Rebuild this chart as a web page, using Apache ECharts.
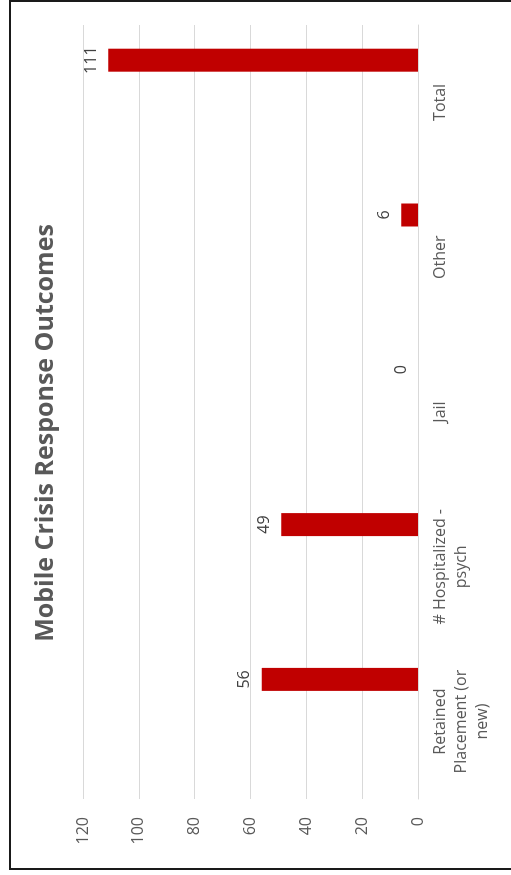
<!DOCTYPE html>
<html>
<head>
<meta charset="utf-8">
<script src="https://cdn.jsdelivr.net/npm/echarts@6/dist/echarts.min.js"></script>
<style>
  html, body { margin: 0; padding: 0; background: #fff; width: 511px; height: 875px; overflow: hidden; }
  #frame { position: absolute; left: 9px; top: 0px; width: 600px; height: 870px; box-sizing: border-box; border: 2px solid #1a1a1a; }
  #chart { position: absolute; left: 0; top: 0; width: 875px; height: 511px; transform-origin: 0 0; transform: translate(0px, 875px) rotate(-90deg); }
</style>
</head>
<body>
<div id="frame"></div>
<div id="chart"></div>
<script>
const title = "Mobile Crisis Response Outcomes";
const categories = ["Retained\nPlacement (or\nnew)", "# Hospitalized -\npsych", "Jail", "Other", "Total"];
const outcomeValues = [56, 49, 0, 6, 111];
const valueTicks = { min: 0, max: 120, interval: 20 };

const chart = echarts.init(document.getElementById('chart'), null, { renderer: 'canvas', width: 875, height: 511 });
const textColor = '#595959';
const font = "'Open Sans', 'Liberation Sans', sans-serif";
chart.setOption({
  animation: false,
  title: {
    text: title,
    left: 437, top: 28, textAlign: 'center',
    textStyle: { fontFamily: font, fontSize: 25, fontWeight: 'bold', color: textColor }
  },
  grid: { left: 76, right: 25, top: 83, bottom: 93, containLabel: false },
  xAxis: {
    type: 'category',
    data: categories,
    axisLine: { show: true, lineStyle: { color: '#d9d9d9', width: 1 } },
    axisTick: { show: false },
    axisLabel: { color: textColor, fontFamily: font, fontSize: 16, lineHeight: 21, margin: 12, interval: 0 }
  },
  yAxis: {
    type: 'value',
    min: valueTicks.min, max: valueTicks.max, interval: valueTicks.interval,
    axisLine: { show: false },
    axisTick: { show: false },
    splitLine: { lineStyle: { color: '#d9d9d9', width: 1 } },
    axisLabel: { color: textColor, fontFamily: font, fontSize: 16, margin: 18 }
  },
  series: [
    { type: 'bar', data: categories.map(() => null), barWidth: 23, barGap: '267%', silent: true },
    {
      type: 'bar', data: outcomeValues, barWidth: 23, barGap: '267%',
      itemStyle: { color: '#C00000' },
      label: { show: true, position: 'top', distance: 9, color: '#404040', fontFamily: font, fontSize: 16 }
    }
  ]
});
</script>
</body>
</html>
